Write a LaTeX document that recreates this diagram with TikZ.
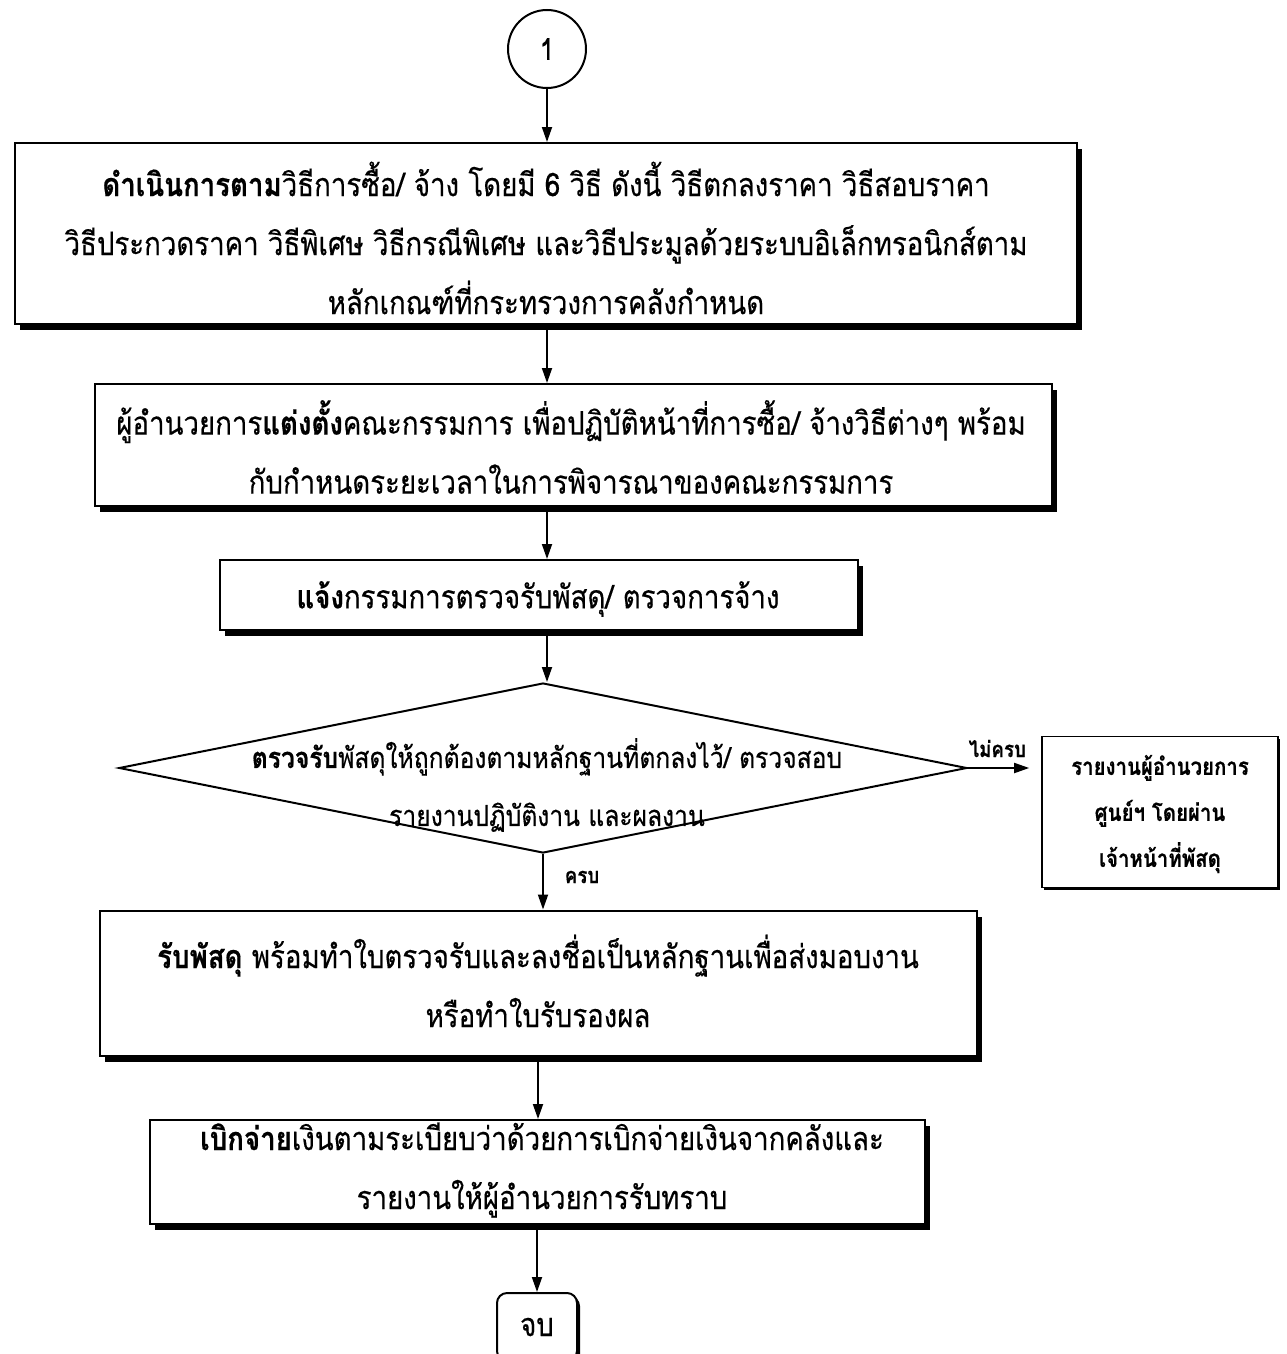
\documentclass[tikz,border=0pt]{standalone}
\usepackage{fontspec}
\newfontfamily\thai[Script=Thai,FakeStretch=0.85,FakeBold=0.4]{Loma}
\usetikzlibrary{shapes.geometric,shadows,arrows.meta}

\begin{document}
\begin{tikzpicture}[x=1pt,y=-1pt,
  box/.style={draw,line width=2pt,fill=white,inner sep=0pt,
    drop shadow={shadow xshift=5pt,shadow yshift=-6pt,opacity=1,fill=black}},
  txt/.style={align=center,inner sep=0pt,font=\thai\fontsize{32.5}{59}\selectfont},
  dtxt/.style={align=center,inner sep=0pt,font=\thai\fontsize{29}{58}\selectfont},
  small/.style={align=center,inner sep=0pt,font=\thai\bfseries\fontsize{24}{46}\selectfont},
  lbl/.style={inner sep=0pt,font=\thai\bfseries\fontsize{22}{22}\selectfont},
  arr/.style={line width=1.8pt,-{Triangle[length=15pt,width=10pt]}},
]
\clip (0,0) rectangle (1286,1354);
\fill[white] (0,0) rectangle (1286,1354);

% connector circle
\node[circle,draw,line width=2pt,minimum size=78pt,inner sep=0pt,
  font=\thai\fontsize{30}{30}\selectfont] (c1) at (547,49) {1};

% process steps (frames)
\node[box,minimum width=1062pt,minimum height=181pt] (b1) at (546,233.5) {};
\node[box,minimum width=957pt,minimum height=122pt] (b2) at (573,445) {};
\node[box,minimum width=638pt,minimum height=70pt] (b3) at (539,595) {};
\node[diamond,draw,line width=2pt,minimum width=848pt,minimum height=170pt,inner sep=0pt] (dia) at (543,768) {};
\node[draw,line width=1.6pt,fill=white,inner sep=0pt,
  minimum width=236pt,minimum height=151pt,
  drop shadow={shadow xshift=2pt,shadow yshift=-2pt,opacity=1,fill=black}] (side) at (1160,812) {};
\node[box,minimum width=877pt,minimum height=145pt] (b4) at (538,983) {};
\node[box,minimum width=775pt,minimum height=104pt] (b5) at (537,1172) {};
\node[draw,line width=2pt,rounded corners=10pt,fill=white,
  minimum width=80pt,minimum height=68pt,inner sep=0pt,
  drop shadow={shadow xshift=3pt,shadow yshift=-3pt,opacity=1,fill=black}] (end) at (537,1327) {};

% texts
\node[txt] (t1) at (546,238)
  {\textbf{ดำเนินการตาม}วิธีการซื้อ/ จ้าง โดยมี 6 วิธี ดังนี้ วิธีตกลงราคา วิธีสอบราคา\\
   วิธีประกวดราคา วิธีพิเศษ วิธีกรณีพิเศษ และวิธีประมูลด้วยระบบอิเล็กทรอนิกส์ตาม\\
   หลักเกณฑ์ที่กระทรวงการคลังกำหนด};
\node[txt] (t2) at (571,447)
  {ผู้อำนวยการ\textbf{แต่งตั้ง}คณะกรรมการ เพื่อปฏิบัติหน้าที่การซื้อ/ จ้างวิธีต่างๆ พร้อม\\
   กับกำหนดระยะเวลาในการพิจารณาของคณะกรรมการ};
\node[txt] (t3) at (538,599) {\textbf{แจ้ง}กรรมการตรวจรับพัสดุ/ ตรวจการจ้าง};
\node[dtxt] (t4) at (547,785)
  {\textbf{ตรวจรับ}พัสดุให้ถูกต้องตามหลักฐานที่ตกลงไว้/ ตรวจสอบ\\
   รายงานปฏิบัติงาน และผลงาน};
\node[small] (t5) at (1160,814) {รายงานผู้อำนวยการ\\ ศูนย์ฯ โดยผ่าน\\ เจ้าหน้าที่พัสดุ};
\node[txt] (t6) at (538,981)
  {\textbf{รับพัสดุ} พร้อมทำใบตรวจรับและลงชื่อเป็นหลักฐานเพื่อส่งมอบงาน\\
   หรือทำใบรับรองผล};
\node[txt] (t7) at (542,1170)
  {\textbf{เบิกจ่าย}เงินตามระเบียบว่าด้วยการเบิกจ่ายเงินจากคลังและ\\
   รายงานให้ผู้อำนวยการรับทราบ};
\node[txt] (t8) at (end) {จบ};

% connectors
\draw[arr] (c1.south) -- (c1.south |- b1.north);
\draw[arr] (b1.south -| c1) -- (b2.north -| c1);
\draw[arr] (b2.south -| c1) -- (b3.north -| c1);
\draw[arr] (b3.south -| c1) -- (dia.north -| c1);
\draw[arr] (dia.south) -- (dia.south |- b4.north);
\draw[arr] (b4.south) -- (b4.south |- b5.north);
\draw[arr] (b5.south) -- (end.north);
\draw[arr,shorten >=12pt] (dia.east) -- (dia.east -| side.west)
  node[pos=0.4,above=10pt,lbl] (no) {ไม่ครบ};
\node[lbl] (yes) at (582,877) {ครบ};
\end{tikzpicture}
\end{document}
